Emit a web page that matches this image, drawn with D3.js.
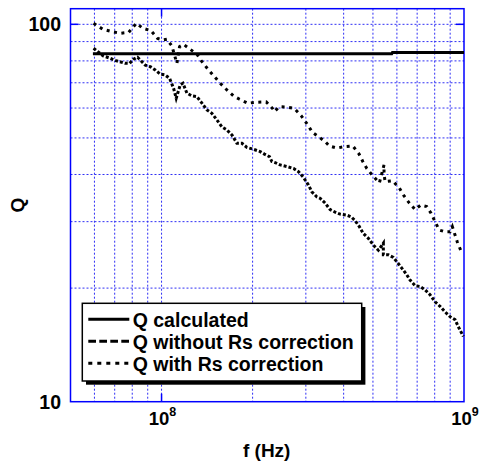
<!DOCTYPE html>
<html>
<head>
<meta charset="utf-8">
<script src="https://cdn.jsdelivr.net/npm/d3@7"></script>
<style>
  body { margin: 0; background: #fff; }
  text { font-family: "Liberation Sans", Arial, sans-serif; font-weight: bold; fill: #000; }
</style>
</head>
<body>
<svg></svg>
<script>
// frequencies in MHz, Q values
const calcF = [59.3, 577, 580, 1000];
const calcQ = [83.6, 83.6, 84.2, 84.2];

const noCorrF = [59.6, 61.6, 64.3, 67.7, 70.7, 75.9, 78.4, 80.8, 83.3, 86.1, 88.4, 91.8, 95.3, 99,
  102.8, 106.3, 109.6, 111.8, 115.3, 117.7, 121.3, 126, 130.9, 136, 141.3, 146.7, 152.4, 158.3,
  164.5, 170.9, 177.5, 184.4, 191.5, 200.4, 211.9, 218.9, 227.4, 231.6, 237.5, 246.7, 259.6,
  273.1, 283.6, 294.5, 306, 314, 326, 334.4, 347.4, 360.8, 374.8, 389.4, 410, 423.4, 436.4,
  450.9, 464.8, 482.8, 501.5, 521, 541.2, 541.2, 562.3, 584, 599.4, 622.6, 646.7, 663.2, 688.9,
  715.5, 743.3, 772.2, 802, 833, 865.5, 899, 933.7, 957.6, 994.8];
const noCorrQ = [86.4, 84.6, 82.4, 81.3, 80.1, 78.8, 78.8, 80.8, 81.8, 79.6, 77.9, 77.2, 75.7, 73.8,
  73.4, 71.9, 67.7, 63.7, 69.1, 69.8, 65.7, 64.6, 64.3, 61.8, 59.3, 58.1, 55.8, 53.5,
  52.5, 50.9, 48.4, 48.4, 47.2, 46.7, 46, 45.3, 44.6, 43.3, 43, 42.4, 42,
  41.5, 40.7, 39.3, 37.5, 36, 34.9, 34.6, 33.6, 32.3, 31.8, 31.4, 31.2, 30.9, 30.2,
  29.1, 27.9, 27.1, 26, 25.2, 26.3, 24.5, 24.5, 24.1, 23.5, 22.6, 21.7, 21, 20.3,
  20.2, 19.8, 19.2, 18.4, 17.9, 17.3, 16.8, 16.5, 15.8, 14.9];

const corrF = [59.6, 64, 68.6, 73.1, 77.8, 82.5, 86.8, 92.3, 97, 101, 104.2, 108.2, 112.4, 114.7,
  118.2, 130.9, 136, 143, 156.3, 164.5, 173, 181.1, 192.9, 208.2, 221.8, 232.6, 236.2, 244.8,
  261.6, 275.2, 289.4, 303.6, 315.4, 330.2, 347.4, 358.9, 379.7, 402.4, 429, 450, 462.8, 477,
  499.3, 525.1, 544, 544, 548.2, 581.4, 611.4, 633.6, 659.6, 688.9, 719.5, 752.9, 778, 802,
  828.6, 865.5, 899, 915, 950.4, 975.2];
const corrQ = [100.6, 97, 95.6, 94.7, 95.2, 100.6, 97.6, 96.2, 91.8, 90.9, 91.3, 87.6, 78.8, 87.3,
  88.5, 83.3, 79.6, 75.7, 69.8, 67, 64.6, 63.3, 61.8, 62.2, 62.3, 59.9, 58.7, 60.5,
  60.3, 59.8, 57.3, 54.3, 51.7, 50.4, 48.9, 47.6, 47, 47.4, 47.6, 45.3, 43.3, 41.5,
  39.7, 38, 42.4, 40.3, 38.3, 38.5, 36.8, 35.1, 33.6, 32.3, 33.2, 32.9, 31.6, 30,
  28.5, 28.2, 28.2, 29.1, 26.5, 25.2];

const xGrid = [60, 70, 80, 90, 100, 200, 300, 400, 500, 600, 700, 800, 900];
const yGrid = [20, 30, 40, 50, 60, 70, 80, 90, 100];
const xTickLabels = [{ v: 100, exp: '8' }, { v: 1000, exp: '9' }];
const yTickLabels = [10, 100];
const legendLabels = ['Q calculated', 'Q without Rs correction', 'Q with Rs correction'];

const W = 479, H = 466;
const plotL = 70.5, plotR = 464, plotT = 8.7, plotB = 401.7;

const svg = d3.select('svg').attr('width', W).attr('height', H);

const x = d3.scaleLog().domain([50, 1000]).range([plotL, plotR]);
const y = d3.scaleLog().domain([10, 110]).range([plotB, plotT]);

const gridColor = '#2f2ff5';

// grid
svg.append('g')
  .selectAll('line')
  .data(xGrid)
  .join('line')
  .attr('x1', (d) => x(d)).attr('x2', (d) => x(d))
  .attr('y1', plotT).attr('y2', plotB)
  .attr('stroke', gridColor).attr('stroke-width', 1)
  .attr('stroke-dasharray', '2,2');

svg.append('g')
  .selectAll('line')
  .data(yGrid)
  .join('line')
  .attr('x1', plotL).attr('x2', plotR)
  .attr('y1', (d) => y(d)).attr('y2', (d) => y(d))
  .attr('stroke', gridColor).attr('stroke-width', 1)
  .attr('stroke-dasharray', '2,2');

// major ticks, pointing inward
const tk = 8;
const ticks = svg.append('g').attr('stroke', '#0000ff').attr('stroke-width', 1.5);
[100].forEach((v) => {
  ticks.append('line').attr('x1', x(v)).attr('x2', x(v)).attr('y1', plotT).attr('y2', plotT + tk);
  ticks.append('line').attr('x1', x(v)).attr('x2', x(v)).attr('y1', plotB).attr('y2', plotB - tk);
});
[100].forEach((v) => {
  ticks.append('line').attr('y1', y(v)).attr('y2', y(v)).attr('x1', plotL).attr('x2', plotL + tk);
  ticks.append('line').attr('y1', y(v)).attr('y2', y(v)).attr('x1', plotR).attr('x2', plotR - tk);
});

// frame
svg.append('rect')
  .attr('x', plotL).attr('y', plotT)
  .attr('width', plotR - plotL).attr('height', plotB - plotT)
  .attr('fill', 'none').attr('stroke', '#0000ff').attr('stroke-width', 1.5);

// series
const line = d3.line().x((d) => x(d[0])).y((d) => y(d[1]));
const series = [
  { f: calcF, q: calcQ, dash: null },
  { f: noCorrF, q: noCorrQ, dash: '3,2' },
  { f: corrF, q: corrQ, dash: '3,4.5' }
];
svg.append('g')
  .selectAll('path')
  .data(series)
  .join('path')
  .attr('d', (s) => line(s.f.map((f, i) => [f, s.q[i]])))
  .attr('fill', 'none')
  .attr('stroke', '#000')
  .attr('stroke-width', 3)
  .attr('stroke-dasharray', (s) => s.dash);

// tick labels
svg.append('g')
  .selectAll('text')
  .data(yTickLabels)
  .join('text')
  .attr('x', 61)
  .attr('y', (d) => y(d))
  .attr('dy', '0.36em')
  .attr('text-anchor', 'end')
  .style('font-size', '19.5px')
  .text((d) => d);

const xl = svg.append('g')
  .selectAll('text')
  .data(xTickLabels)
  .join('text')
  .attr('x', (d) => x(d.v) + 1)
  .attr('y', 424.5)
  .attr('text-anchor', 'middle')
  .style('font-size', '18.5px');
xl.append('tspan').text('10');
xl.append('tspan').attr('dy', -9).style('font-size', '12.5px').text((d) => d.exp);

// axis titles
svg.append('text')
  .attr('x', 266.7).attr('y', 457)
  .attr('text-anchor', 'middle')
  .style('font-size', '19px')
  .text('f (Hz)');

svg.append('text')
  .attr('transform', 'translate(24,205) rotate(-90)')
  .attr('text-anchor', 'middle')
  .style('font-size', '19px')
  .text('Q');

// legend
const lg = svg.append('g');
lg.append('rect')
  .attr('x', 86).attr('y', 307).attr('width', 279.4).attr('height', 77.7)
  .attr('fill', '#000');
lg.append('rect')
  .attr('x', 82.3).attr('y', 303.3).attr('width', 279.4).attr('height', 77.7)
  .attr('fill', '#fff').attr('stroke', '#000').attr('stroke-width', 1.5);

const rows = lg.selectAll('g.row')
  .data(series.map((s, i) => ({ label: legendLabels[i], dash: [null, '7.7,3.3', '4,5'][i] })))
  .join('g')
  .attr('class', 'row')
  .attr('transform', (d, i) => 'translate(0,' + (319.3 + i * 22) + ')');
rows.append('line')
  .attr('x1', 88.3).attr('x2', 129.3)
  .attr('stroke', '#000').attr('stroke-width', 3)
  .attr('stroke-dasharray', (d) => d.dash);
rows.append('text')
  .attr('x', 132.7).attr('y', 8)
  .style('font-size', '19.5px')
  .text((d) => d.label);
</script>
</body>
</html>
